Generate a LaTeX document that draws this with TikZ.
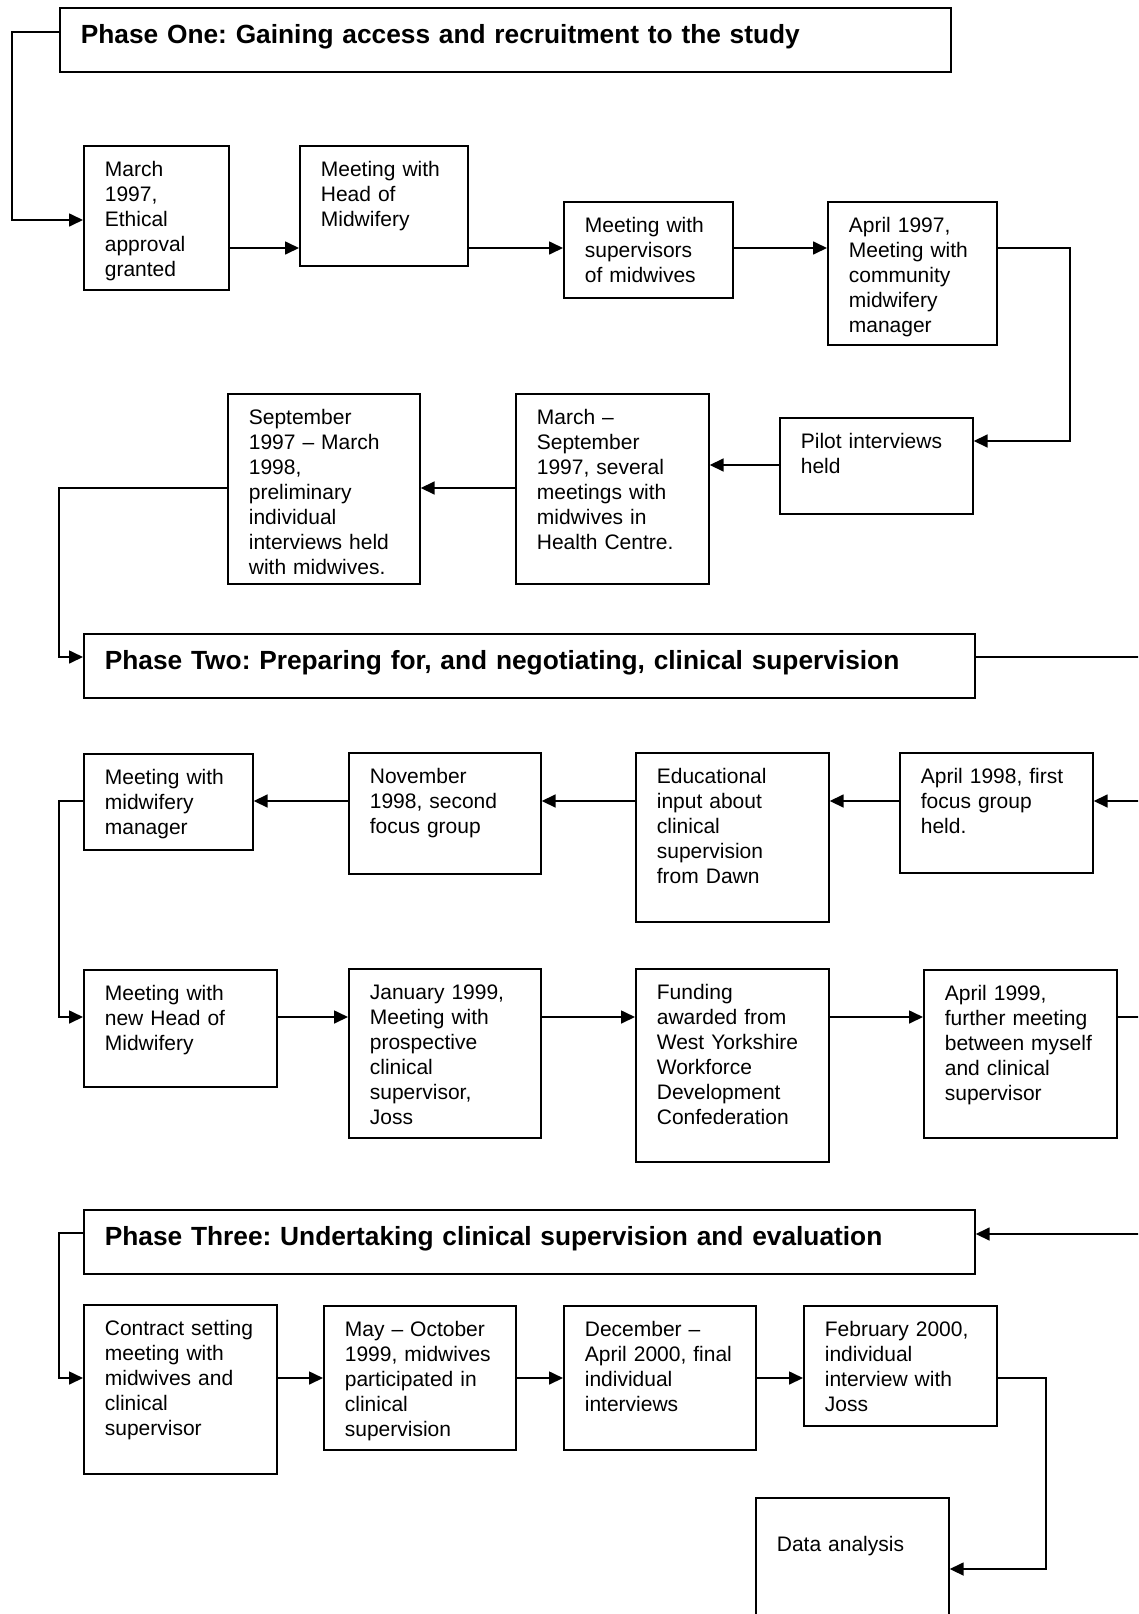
\documentclass[tikz,border=0pt]{standalone}
\usepackage{fontspec}
\setmainfont{Liberation Sans}
\usepackage{tikz}
\usetikzlibrary{arrows.meta, positioning, calc}
\frenchspacing

\tikzset{
  phasebox/.style={draw, line width=1.7pt, anchor=north west, align=left,
    font=\fontsize{26.3}{30}\selectfont\bfseries,
    inner xsep=21pt, inner ysep=11pt, text width=849pt, text height=25pt, text depth=17pt},
  event/.style={draw, line width=1.7pt, anchor=north west, align=left,
    font=\fontsize{21}{25}\selectfont,
    inner xsep=21pt, inner ysep=11pt, text height=20pt},
  flow/.style={line width=1.7pt, -{Triangle[length=14pt, width=13pt]}}
}

\begin{document}
\begin{tikzpicture}[x=1pt, y=-1pt]
  \useasboundingbox (0,0) rectangle (1138,1614);
  \clip (0,0) rectangle (1138,1614);
  \fill[white] (0,0) rectangle (1138,1614);

  \node[phasebox] (phase1) at (59,7) {Phase One: Gaining access and recruitment to the study};
  \node[event, text width=103pt, text depth=102pt] (ethics) at (83,145) {March\\1997,\\Ethical\\approval\\granted};
  \node[event, text width=126pt, text depth=78pt] (headmw) at (299,145) {Meeting with\\Head of\\Midwifery};
  \node[event, text width=127pt, text depth=54pt] (supmw) at (563,201) {Meeting with\\supervisors\\of midwives};
  \node[event, text width=127pt, text depth=101pt] (commgr) at (827,201) {April 1997,\\Meeting with\\community\\midwifery\\manager};
  \node[event, text width=151pt, text depth=54pt] (pilot) at (779,417) {Pilot interviews\\held};
  \node[event, text width=151pt, text depth=148pt] (hcmeet) at (515,393) {March –\\September\\1997, several\\meetings with\\midwives in\\Health Centre.};
  \node[event, text width=150pt, text depth=148pt] (prelim) at (227,393) {September\\1997 – March\\1998,\\preliminary\\individual\\interviews held\\with midwives.};

  \node[phasebox] (phase2) at (83,633) {Phase Two: Preparing for, and negotiating, clinical supervision};
  \node[event, text width=127pt, text depth=54pt] (mwmgr) at (83,753) {Meeting with\\midwifery\\manager};
  \node[event, text width=150pt, text depth=79pt] (focus2) at (348,752) {November\\1998, second\\focus group};
  \node[event, text width=151pt, text depth=127pt] (educ) at (635,752) {Educational\\input about\\clinical\\supervision\\from Dawn};
  \node[event, text width=151pt, text depth=78pt] (focus1) at (899,752) {April 1998, first\\focus group\\held.};
  \node[event, text width=151pt, text depth=75pt] (newhead) at (83,969) {Meeting with\\new Head of\\Midwifery};
  \node[event, text width=150pt, text depth=127pt] (joss) at (348,968) {January 1999,\\Meeting with\\prospective\\clinical\\supervisor,\\Joss};
  \node[event, text width=151pt, text depth=151pt] (funding) at (635,968) {Funding\\awarded from\\West Yorkshire\\Workforce\\Development\\Confederation};
  \node[event, text width=151pt, text depth=126pt] (further) at (923,969) {April 1999,\\further meeting\\between myself\\and clinical\\supervisor};

  \node[phasebox] (phase3) at (83,1209) {Phase Three: Undertaking clinical supervision and evaluation};
  \node[event, text width=151pt, text depth=127pt] (contract) at (83,1304) {Contract setting\\meeting with\\midwives and\\clinical\\supervisor};
  \node[event, text width=150pt, text depth=102pt] (sessions) at (323,1305) {May – October\\1999, midwives\\participated in\\clinical\\supervision};
  \node[event, text width=150pt, text depth=102pt] (finalint) at (563,1305) {December –\\April 2000, final\\individual\\interviews};
  \node[event, text width=151pt, text depth=78pt] (jossint) at (803,1305) {February 2000,\\individual\\interview with\\Joss};
  \node[event, text width=151pt, text height=43pt, text depth=85pt] (analysis) at (755,1497) {Data analysis};

  \foreach \a/\b/\y in {ethics/headmw/248, headmw/supmw/248, supmw/commgr/248,
      newhead/joss/1017, joss/funding/1017, funding/further/1017,
      contract/sessions/1378, sessions/finalint/1378, finalint/jossint/1378}
    \draw[flow] (\a.east |- 0,\y) -- (\b.west |- 0,\y);
  \foreach \a/\b/\y in {pilot/hcmeet/465, hcmeet/prelim/488,
      focus1/educ/801, educ/focus2/801, focus2/mwmgr/801}
    \draw[flow] (\a.west |- 0,\y) -- (\b.east |- 0,\y);

  \draw[flow] (phase1.west |- 0,32) -- ++(-47,0) |- (ethics.west |- 0,220);
  \draw[flow] (commgr.east |- 0,248) -- ++(72,0) |- (pilot.east |- 0,441);
  \draw[flow] (prelim.west |- 0,488) -- ++(-168,0) |- (phase2.west |- 0,657);
  \draw[flow] (phase2.east |- 0,657) -- ++(176,0) |- (focus1.east |- 0,801);
  \draw[flow] (mwmgr.west |- 0,801) -- ++(-24,0) |- (newhead.west |- 0,1017);
  \draw[flow] (further.east |- 0,1017) -- ++(34,0) |- (phase3.east |- 0,1234);
  \draw[flow] (phase3.west |- 0,1233) -- ++(-24,0) |- (contract.west |- 0,1378);
  \draw[flow] (jossint.east |- 0,1378) -- ++(48,0) |- (analysis.east |- 0,1569);
\end{tikzpicture}
\end{document}
